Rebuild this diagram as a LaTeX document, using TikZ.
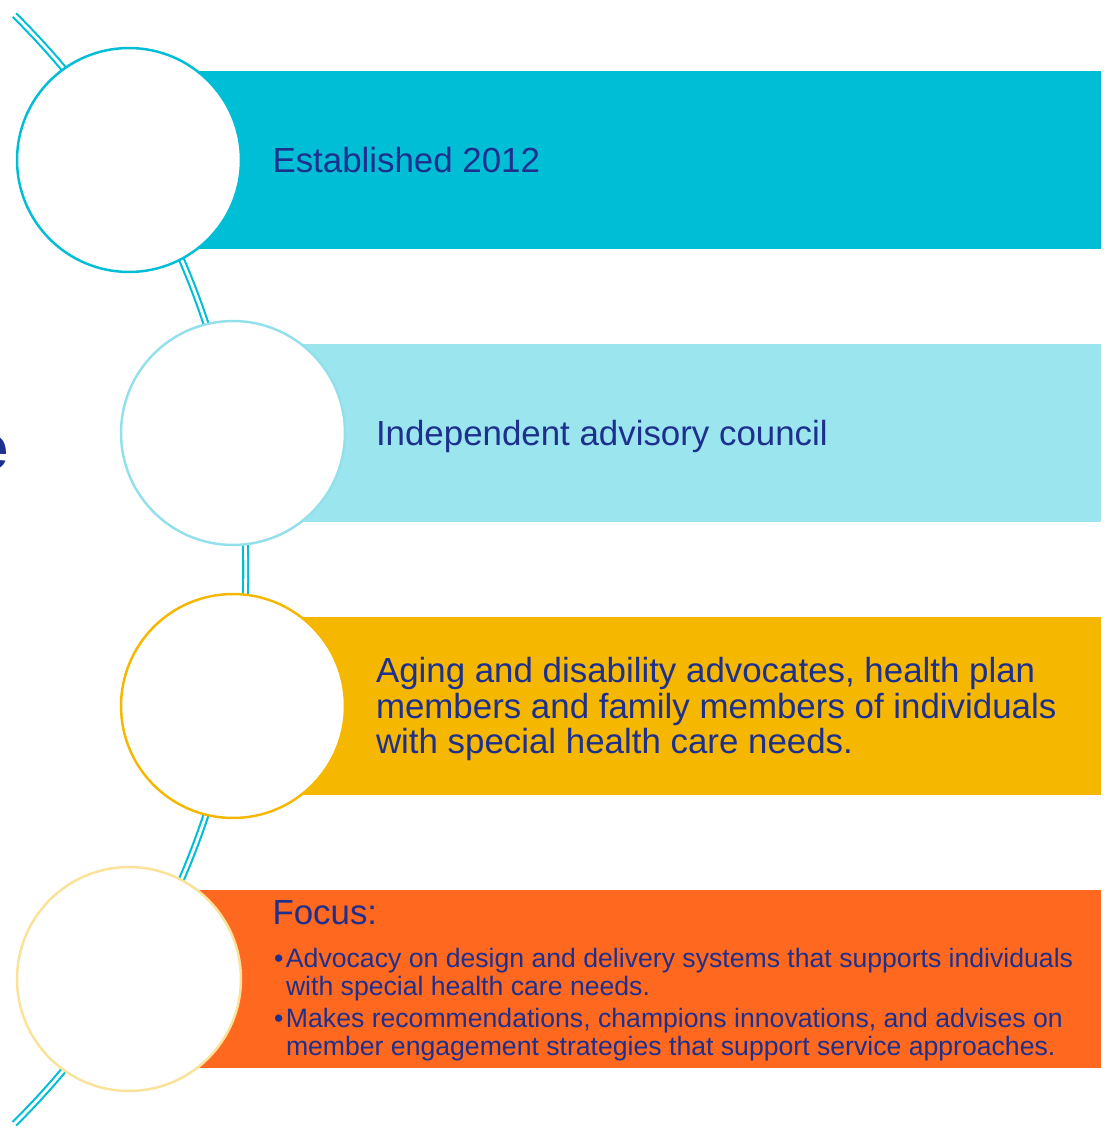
\documentclass[tikz,border=0pt]{standalone}
\usepackage{fontspec}
\setmainfont{Liberation Sans}
\usetikzlibrary{positioning}
\definecolor{bandcyan}{RGB}{0,190,214}
\definecolor{bandsky}{RGB}{154,229,238}
\definecolor{ringsky}{RGB}{146,224,235}
\definecolor{bandgold}{RGB}{245,183,0}
\definecolor{bandorange}{RGB}{255,104,31}
\definecolor{ringcream}{RGB}{250,226,152}
\definecolor{textnavy}{RGB}{30,48,142}
\tikzset{
every node/.style={inner sep=0pt, outer sep=0pt}, % boxes hug their text
band/.style={rectangle, anchor=west, minimum height=3.56cm}, % coloured bar behind a ring
ring/.style={circle, fill=white, line width=1.4pt, minimum size=4.48cm}, % white disc on the line
link/.style={draw=bandcyan, line width=1.2pt, double=white, double distance=1.6pt}, % the double line
bigtext/.style={textnavy, font=\fontsize{19.85}{20.4}\selectfont, align=left}, % text in the bars
smalltext/.style={textnavy, font=\fontsize{15.15}{15.9}\selectfont}, % the focus list
}
\newcommand{\focusbullet}{\makebox[0.24cm][l]{•}}

\begin{document}
\begin{tikzpicture}[x=0.02cm, y=0.02cm]
      \useasboundingbox (0,0) rectangle (1110,-1135);

      % the long line that threads the rings
      \coordinate (linktop) at (14.4,-15.1);
      \draw[link] (linktop) arc[start angle=45.3, end angle=-45.3, radius=15.6cm];

      % cut-off title letter at the left edge
      \node[textnavy, font=\fontsize{36}{40}\selectfont\bfseries, anchor=base east] (titleend) at (9,-469) {e};

      % bars
      \node[band, fill=bandcyan, minimum width=19.44cm] (bar1) at (129,-160) {};
      \node[band, fill=bandsky, minimum width=17.36cm] (bar2) at (233,-433) {};
      \node[band, fill=bandgold, minimum width=17.36cm] (bar3) at (233,-706) {};
      \node[band, fill=bandorange, minimum width=19.44cm] (bar4) at (129,-979) {};

      % rings
      \node[ring, draw=bandcyan] (ring1) at (129,-160) {};
      \node[ring, draw=ringsky] (ring2) at (233,-433) {};
      \node[ring, draw=bandgold] (ring3) at (233,-706) {};
      \node[ring, draw=ringcream] (ring4) at (129,-979) {};

      % texts
      \node[bigtext, anchor=base west] (established) at (272.5,-172.4) {Established 2012};
      \node[bigtext, anchor=base west] (council) at (376,-445.4) {Independent advisory council};
      \node[bigtext, anchor=west] (members) at (376,-709) {Aging and disability advocates, health plan\\members and family members of individuals\\with special health care needs.};
      \node[bigtext, anchor=base west] (focus) at (272.5,-924.5) {Focus:};
      \node[smalltext, anchor=base west] (focuslist) at (274,-967.4) {%
        \begin{tabular}[t]{@{}l@{}l@{}}
        \focusbullet & Advocacy on design and delivery systems that supports individuals\\
         & with special health care needs.\\[2.3pt]
        \focusbullet & Makes recommendations, champions innovations, and advises on\\
         & member engagement strategies that support service approaches.
        \end{tabular}};
    \end{tikzpicture}
\end{document}
